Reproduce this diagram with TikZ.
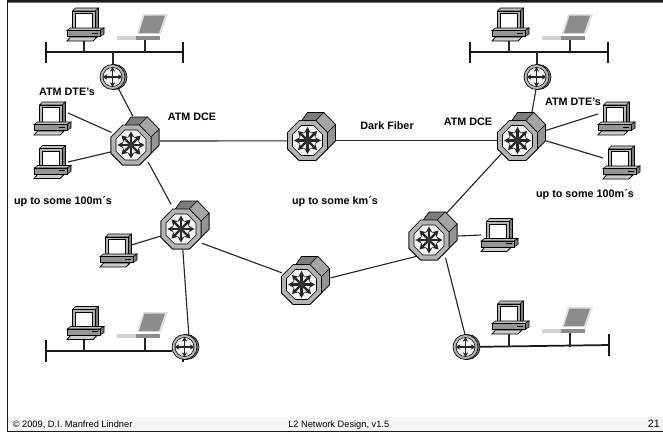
\documentclass[tikz,border=0pt]{standalone}
\usepackage{fontspec}
\setmainfont{Liberation Sans}
\usetikzlibrary{arrows.meta}
\definecolor{darkface}{HTML}{7C7C7C}
\definecolor{midface}{HTML}{959595}
\definecolor{ringgray}{HTML}{B4B4B4}
\definecolor{lapgray}{HTML}{8C8C8C}
\tikzset{
  swnode/.style={circle, minimum size=37.5pt, inner sep=0pt, outer sep=0pt},
  rtnode/.style={circle, minimum size=19.5pt, inner sep=0pt, outer sep=0pt},
  pcnode/.style={rectangle, minimum width=25.5pt, minimum height=24.75pt, inner sep=0pt, outer sep=0pt},
  lapnode/.style={rectangle, minimum width=25.5pt, minimum height=19.5pt, inner sep=0pt, outer sep=0pt},
  wire/.style={draw=black!85, line width=0.85pt},
  bus/.style={draw=black!90, line width=1.3pt},
  lbl/.style={font=\fontsize{8.1}{9}\selectfont\bfseries, inner sep=0pt},
  foot/.style={font=\fontsize{6.95}{8}\selectfont, inner sep=0pt},
  pics/atmswitch/.style={code={
    \draw[black, line width=0.5pt, fill=darkface] (-12.3,-12.3) -- (-24,-4) -- (-24,12.3) -- (-12.3,24) -- (4.3,24) -- (16,12.3) -- (24,4.3) -- (24,-12) -- (12.3,-24) -- (-4,-24) -- cycle;
    \draw[black, line width=0.4pt, fill=midface] (16,-4) -- (24,-12) -- (24,4.3) -- (16,12.3) -- cycle;
    \draw[black, line width=0.4pt, fill=midface!85] (4.3,-16) -- (12.3,-24) -- (24,-12) -- (16,-4) -- cycle;
    \draw[black, line width=0.5pt, fill=ringgray] (-12.3,-16) -- (4.3,-16) -- (16,-4) -- (16,12.3) -- (4.3,24) -- (-12.3,24) -- (-24,12.3) -- (-24,-4) -- cycle;
    \draw[black, line width=0.4pt, fill=black!5] (-10.2,-11) -- (2.2,-11) -- (11,-2) -- (11,10.2) -- (2.2,19) -- (-10.2,19) -- (-19,10.2) -- (-19,-2) -- cycle;
    \foreach \a in {0,45,...,315}
      \draw[-{Stealth[length=4.5pt,width=5pt]}, line width=1.7pt, black!85] (-4,4) -- ++(\a:13.5);
    \fill[black!80] (-4,4) circle (3.6);
  }},
  pics/router/.style={code={
    \draw[black, line width=0.5pt, fill=darkface] (1.5,0) circle (12.5);
    \draw[black, line width=0.5pt, fill=ringgray] (-0.5,0) circle (12.5);
    \draw[black, line width=0.4pt, fill=black!4] (-0.5,0) circle (9.5);
    \foreach \a in {0,90,180,270}
      \draw[-{Stealth[length=3.5pt,width=4pt]}, line width=1.2pt, black!85] (-0.5,0) -- ++(\a:10);
  }},
  pics/workstation/.style={code={
    \draw[black, line width=0.4pt, fill=darkface] (11,-14.5) -- (14.5,-16.5) -- (14.5,3) -- (11,6) -- cycle;
    \draw[black, line width=0.4pt, fill=black!25] (-11.5,-13.5) -- (-8.5,-16.5) -- (14.5,-16.5) -- (11,-13.5) -- cycle;
    \draw[black, line width=0.6pt, fill=ringgray] (-11.5,-13.5) rectangle (11,6);
    \draw[black, line width=0.5pt, fill=white] (-9,-11) rectangle (8.5,3.5);
    \draw[black, line width=0.4pt, fill=black!25] (-17,6) -- (-13.5,3.5) -- (20,3.5) -- (16,6) -- cycle;
    \draw[black, line width=0.4pt, fill=darkface] (16,6) -- (20,3.5) -- (20,9.5) -- (16,12) -- cycle;
    \draw[black, line width=0.5pt, fill=midface] (-17,6) rectangle (16,12);
    \draw[black, line width=0.7pt] (8,8.5) -- (14,8.5);
    \draw[black, line width=0.6pt, fill=black!20] (-13.5,12.5) -- (13,12.5) -- (9,16.5) -- (-17,16.5) -- cycle;
  }},
  pics/laptop/.style={code={
    \fill[black!12] (-2,-13) -- (23,-13) -- (16,7) -- (-8,7) -- cycle;
    \fill[lapgray] (-0.5,-11.5) -- (20,-11.5) -- (14,6) -- (-6,6) -- cycle;
    \fill[black!18] (-28,9) rectangle (-9,13);
    \fill[lapgray] (-9,9) rectangle (15,13);
  }},
}
\begin{document}
\begin{tikzpicture}[x=0.75pt,y=-0.75pt]
\useasboundingbox (0,0) rectangle (663,433);
% slide frame
\fill[black!4] (7,417) rectangle (663,431);
\fill[black!55] (7,0) rectangle (663,3);
\fill[black!90] (7,0) rectangle (663,1.8);
\fill[black!90] (6.5,0) rectangle (8,432);
\fill[black!90] (6.5,430.8) rectangle (663,432.2);

% switches
\node[swnode] (swtl) at (135,141) {};
\node[swnode] (swmid) at (311.5,136.5) {};
\node[swnode] (swtr) at (521.5,136.5) {};
\node[swnode] (swll) at (185,225) {};
\node[swnode] (swbot) at (305.5,280.5) {};
\node[swnode] (swlr) at (433,236) {};
% routers
\node[rtnode] (rta) at (113,77) {};
\node[rtnode] (rtb) at (537,77) {};
\node[rtnode] (rtc) at (185,347) {};
\node[rtnode] (rtd) at (466,347) {};
% hosts
\node[pcnode] (pca) at (84,24.5) {};
\node[lapnode] (lapa) at (145,27) {};
\node[pcnode] (pcb) at (509,24.5) {};
\node[lapnode] (lapb) at (570,27) {};
\node[pcnode] (pcl1) at (51,118.5) {};
\node[pcnode] (pcl2) at (51,162) {};
\node[pcnode] (pcr1) at (615,118.5) {};
\node[pcnode] (pcr2) at (620,162.5) {};
\node[pcnode, minimum width=21pt] (pcll) at (117,250.5) {};
\node[pcnode] (pclr) at (498,235) {};
\node[pcnode] (pcc) at (84,323) {};
\node[lapnode] (lapc) at (145,325) {};
\node[pcnode] (pcd) at (509,317.5) {};
\node[lapnode] (lapd) at (570,320) {};
% bus ends
\coordinate (busal) at (46,52);
\coordinate (busar) at (183,52);
\coordinate (busbl) at (470,52);
\coordinate (busbr) at (608,52);
\coordinate (buscl) at (46,351);
\coordinate (buscr) at (183,351);
\coordinate (busdr) at (609,345);

% LAN segments
\draw[bus] (busal) -- (busar);
\draw[bus] (busbl) -- (busbr);
\draw[bus] (buscl) -- (rtc.west |- buscl);
\draw[bus] (rtd) -- (busdr);
\foreach \e/\h in {busal/10.5,busar/10.5,busbl/10.5,busbr/10.5,buscl/11,buscr/11,busdr/11}
  \draw[bus] ([yshift=\h*0.75pt]\e) -- ([yshift=-\h*0.75pt]\e);
\draw[wire] (pca.south) -- (pca.south |- busal);
\draw[wire] (lapa.south) -- (lapa.south |- busal);
\draw[wire] (rta.north) -- (rta.north |- busal);
\draw[wire] (pcb.south) -- (pcb.south |- busbl);
\draw[wire] (lapb.south) -- (lapb.south |- busbl);
\draw[wire] (rtb.north) -- (rtb.north |- busbl);
\draw[wire] (pcc.south) -- (pcc.south |- buscl);
\draw[wire] (lapc.south) -- (lapc.south |- buscl);
\draw[wire] (pcd.south) -- (pcd.south |- rtd);
\draw[wire] (lapd.south) -- (lapd.south |- rtd);

% links
\draw[wire] (rta.-65) -- (swtl.95);
\draw[wire] (pcl1.18) -- (swtl.160);
\draw[wire] (pcl2.east) -- (swtl.205);
\draw[wire] (swtl.east) -- (swmid.190);
\draw[wire] (swmid.-10) -- (swtr.190);
\draw[wire] (swtl.-58) -- (swll.124);
\draw[wire] (swll.205) -- (pcll.21);
\draw[wire] (swll.265) -- (rtc.73);
\draw[wire] (swll.-47) -- (swbot.162);
\draw[wire] (swbot.6) -- (swlr.233);
\draw[wire] (swlr.60) -- (swtr.220);
\draw[wire] (swlr.east) -- (pclr.west);
\draw[wire] (swlr.-60) -- (rtd.95);
\draw[wire] (swtr.66) -- (rtb.-95);
\draw[wire] (swtr.14) -- (pcr1.165);
\draw[wire] (swtr.-10) -- (pcr2.165);

% device symbols
\foreach \n in {swtl,swmid,swtr,swll,swbot,swlr} \pic at (\n) {atmswitch};
\foreach \n in {rta,rtb,rtc,rtd} \pic at (\n) {router};
\foreach \n in {pca,pcb,pcl1,pcl2,pcr1,pcr2,pcll,pclr,pcc,pcd} \pic at (\n) {workstation};
\foreach \n in {lapa,lapb,lapc,lapd} \pic at (\n) {laptop};

% labels
\node[lbl] (ldtea) at (67,92) {ATM DTE's};
\node[lbl] (ldcea) at (192,117) {ATM DCE};
\node[lbl] (lfib) at (387,126) {Dark Fiber};
\node[lbl] (ldceb) at (468,122) {ATM DCE};
\node[lbl] (ldteb) at (573,102) {ATM DTE's};
\node[lbl] (lupa) at (63,201.5) {up to some 100m´s};
\node[lbl] (lupb) at (335,202) {up to some km´s};
\node[lbl] (lupc) at (585,195) {up to some 100m´s};
\node[foot, anchor=west] (fcopy) at (12.5,425) {© 2009, D.I. Manfred Lindner};
\node[foot, anchor=west] (ftitle) at (288,425) {L2 Network Design, v1.5};
\node[foot, anchor=east, font=\fontsize{8}{9}\selectfont] (fpage) at (660,424) {21};
\end{tikzpicture}
\end{document}
